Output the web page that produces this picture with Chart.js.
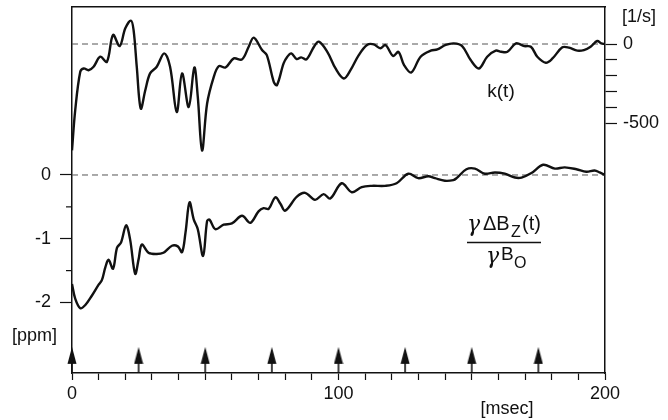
<!DOCTYPE html>
<html><head><meta charset="utf-8">
<script src="https://cdn.jsdelivr.net/npm/chart.js@4/dist/chart.umd.min.js"></script>
<style>html,body{margin:0;padding:0;background:#fff;overflow:hidden}canvas{display:block}</style>
</head><body>
<canvas id="c" width="668" height="420"></canvas>
<script>
// ---- data ----
const kTimes  = [0,1.2,3.1,4.4,6.2,8.1,10.6,13.1,15.4,17.9,20.0,22.1,23.1,24.3,25.8,27.5,29.3,31.8,34.6,36.8,39.3,41.3,43.8,45.9,47.2,48.8,50.7,53.2,55.1,57.6,60.7,63.8,66.3,68.2,71.3,73.1,75.7,76.9,79.4,80.8,82.3,84.3,86.0,88.0,90.8,92.6,95.8,98.9,102.0,104.5,107.6,110.7,113.2,115.7,117.6,120.5,122.5,124.6,127.3,130.8,134.6,137.1,140.2,143.3,146.4,149.6,152.7,155.8,159.0,161.0,163.4,166.6,169.7,172.2,174.6,177.8,180.3,184.0,186.5,189.6,192.1,194.6,197.1,198.6,200];
const kValues = [-670,-418,-175,-154,-165,-143,-80,-112,57,-13,99,147,89,-143,-407,-291,-185,-143,-59,-143,-428,-185,-397,-148,-333,-671,-375,-207,-139,-148,-91,-97,-17,40,-38,-70,-238,-259,-122,-80,-59,-95,-84,-97,-17,15,-49,-154,-217,-165,-70,-6,-2,-27,-6,-75,-50,-133,-179,-80,-42,-34,-6,4,-13,-101,-154,-80,-42,-49,-49,4,-13,-17,-80,-118,-91,-21,-23,-42,-38,-17,19,4,0];

const bTimes  = [0,1.2,3.1,5.0,7.5,10.0,11.2,12.5,13.7,15.4,16.9,18.4,20.3,21.8,23.7,25.0,26.2,28.7,31.8,34.3,37.5,39.7,41.3,42.6,44.1,45.7,47.2,49.2,50.7,51.6,53.8,56.9,60.0,63.8,66.9,70.0,71.9,73.8,76.3,78.2,80.0,84.4,87.5,91.2,94.4,96.9,101.2,105.0,108.7,112.5,117.5,121.8,126.2,129.9,133.7,136.2,139.9,143.1,144.3,148.0,151.2,154.9,158.7,162.4,166.2,168.7,172.4,176.8,181.2,184.9,189.3,193.0,196.1,198.0,200];
const bValues = [-1.71,-1.94,-2.09,-2.04,-1.89,-1.72,-1.65,-1.45,-1.33,-1.47,-1.14,-1.06,-0.79,-1.01,-1.55,-1.32,-1.09,-1.22,-1.24,-1.22,-1.11,-1.12,-1.21,-0.90,-0.43,-0.70,-0.85,-1.27,-0.72,-0.70,-0.85,-0.78,-0.76,-0.64,-0.75,-0.57,-0.52,-0.53,-0.35,-0.45,-0.56,-0.34,-0.28,-0.39,-0.30,-0.37,-0.13,-0.27,-0.19,-0.17,-0.17,-0.13,0.02,-0.05,-0.02,-0.05,-0.09,-0.08,-0.05,0.09,0.10,0.02,0.04,0.02,-0.04,-0.04,0.03,0.16,0.10,0.12,0.09,0.05,0.07,0.04,0];

const arrowTimes = [0,25,50,75,100,125,150,175];

const xTickValues   = [0,10,20,30,40,50,60,70,80,90,100,110,120,130,140,150,160,170,180,190,200];
const xLabelValues  = [0,100,200];
const xTickLabels   = ['0','100','200'];
const ppmTickValues = [-2,-1.5,-1,-0.5,0];
const ppmTickLabels = ['-2','','-1','','0'];
const rateTickValues = [-500,-400,-300,-200,-100,0];
const rateTickLabels = ['-500','','','','','0'];

// ---- styles / layout ----
const INK = '#111';
const FONT = '"Liberation Sans", Arial, Helvetica, sans-serif';
const GAMMA_FONT = 'italic 22px "DejaVu Serif", "Liberation Serif", serif';
const ARROW_LEVEL = -2.9; // vertical position of the event arrows on the ppm scale

const arrowImg = document.createElement('canvas');
arrowImg.width = 10; arrowImg.height = 26;
(function(){
  const g = arrowImg.getContext('2d');
  g.fillStyle = INK;
  g.beginPath(); g.moveTo(5,0); g.lineTo(0.5,17); g.lineTo(9.5,17); g.closePath(); g.fill();
  g.strokeStyle = INK; g.lineWidth = 1.6;
  g.beginPath(); g.moveTo(5,16); g.lineTo(5,26); g.stroke();
})();

const pairs = (ts, vs) => ts.map((t,i) => ({x:t, y:vs[i]}));

const annot = {
  id: 'annot',
  afterDraw(chart){
    const ctx = chart.ctx;
    ctx.save();
    ctx.fillStyle = INK; ctx.strokeStyle = INK;
    // minor ppm ticks (shorter)
    const yB = chart.scales.yB;
    ctx.lineWidth = 1.2;
    ppmTickValues.forEach((v,i) => {
      if (ppmTickLabels[i] === '') {
        const p = yB.getPixelForValue(v);
        ctx.beginPath(); ctx.moveTo(yB.right - 6, p); ctx.lineTo(yB.right, p); ctx.stroke();
      }
    });
    ctx.textBaseline = 'middle';
    ctx.font = '18px ' + FONT;
    ctx.textAlign = 'left';
    ctx.fillText('[1/s]', 622, 17);
    ctx.fillText('[ppm]', 12, 336);
    ctx.textAlign = 'center';
    ctx.fillText('[msec]', 507, 409);
    ctx.font = '19px ' + FONT;
    ctx.fillText('k(t)', 501, 92);
    // fraction  γΔB_Z(t) / γB_o
    ctx.textAlign = 'left'; ctx.textBaseline = 'alphabetic';
    ctx.font = GAMMA_FONT;
    ctx.fillText('γ', 467, 231);
    ctx.font = '20px ' + FONT;
    ctx.fillText('ΔB', 483, 230);
    ctx.font = '16px ' + FONT;
    ctx.fillText('Z', 511, 237);
    ctx.font = '20px ' + FONT;
    ctx.fillText('(t)', 522, 230);
    ctx.lineWidth = 1.6;
    ctx.beginPath(); ctx.moveTo(467, 242.5); ctx.lineTo(541, 242.5); ctx.stroke();
    ctx.font = GAMMA_FONT;
    ctx.fillText('γ', 486, 263);
    ctx.font = '19px ' + FONT;
    ctx.fillText('B', 501, 260);
    ctx.font = '16px ' + FONT;
    ctx.fillText('O', 514, 268);
    ctx.restore();
  }
};

const tickFont = {family: FONT, size: 18};
const noVPad = s => { s.paddingTop = 0; s.paddingBottom = 0; };
const noHPad = s => { s.paddingLeft = 0; s.paddingRight = 0; };

new Chart(document.getElementById('c'), {
  type: 'line',
  data: {
    datasets: [
      {label:'k(t)', data: pairs(kTimes, kValues), yAxisID:'yK', borderColor:INK, borderWidth:2.4, pointRadius:0, tension:0.35, fill:false, order:1},
      {label:'dBz', data: pairs(bTimes, bValues), yAxisID:'yB', borderColor:INK, borderWidth:2.4, pointRadius:0, tension:0.35, fill:false, order:1},
      {label:'k zero', data: [{x:0,y:0},{x:200,y:0}], yAxisID:'yK', borderColor:'#555', borderWidth:1, borderDash:[6,4], pointRadius:0, order:2},
      {label:'b zero', data: [{x:0,y:0},{x:200,y:0}], yAxisID:'yB', borderColor:'#555', borderWidth:1, borderDash:[6,4], pointRadius:0, order:2},
      {label:'events', type:'scatter', data: arrowTimes.map(t => ({x:t, y:ARROW_LEVEL})), yAxisID:'yB', pointStyle: arrowImg, pointRadius:5, showLine:false, clip:false, order:0}
    ]
  },
  options: {
    responsive: false, animation: false, devicePixelRatio: 1,
    layout: {padding: 0, autoPadding: false},
    plugins: {legend: {display:false}, tooltip: {enabled:false}},
    scales: {
      x: {
        type:'linear', position:'bottom', min:0, max:200,
        afterBuildTicks: s => { s.ticks = xTickValues.map(v => ({value:v})); },
        afterFit: s => { s.height = 47; noHPad(s); },
        ticks: {autoSkip:false, maxRotation:0, padding:3, color:INK, font:tickFont,
          callback: v => { const i = xLabelValues.indexOf(v); return i >= 0 ? xTickLabels[i] : ''; }},
        grid: {drawOnChartArea:false, drawTicks:true, tickLength:7, tickColor:INK, tickWidth:1.2},
        border: {display:true, color:INK, width:1.5}
      },
      xTop: {
        type:'linear', position:'top', min:0, max:200,
        afterFit: s => { s.height = 7; noHPad(s); },
        ticks: {display:false},
        grid: {display:false, drawTicks:false},
        border: {display:true, color:INK, width:1.5}
      },
      yB: {
        type:'linear', position:'left', min:-3.106, max:2.635,
        afterBuildTicks: s => { s.ticks = ppmTickValues.map(v => ({value:v})); },
        afterFit: s => { s.width = 72; noVPad(s); },
        ticks: {padding:9, color:INK, font:tickFont,
          callback: v => { const i = ppmTickValues.indexOf(v); return i >= 0 ? ppmTickLabels[i] : ''; }},
        grid: {drawOnChartArea:false, drawTicks:true, tickLength:12, tickWidth:1.2,
          tickColor: c => (c.tick && ppmTickLabels[ppmTickValues.indexOf(c.tick.value)] !== '') ? INK : 'rgba(0,0,0,0)'},
        border: {display:true, color:INK, width:1.5}
      },
      yK: {
        type:'linear', position:'right', min:-2073, max:233.2,
        afterBuildTicks: s => { s.ticks = rateTickValues.map(v => ({value:v})); },
        afterFit: s => { s.width = 63; noVPad(s); },
        ticks: {padding:6, color:INK, font:tickFont,
          callback: v => { const i = rateTickValues.indexOf(v); return i >= 0 ? rateTickLabels[i] : ''; }},
        grid: {drawOnChartArea:false, drawTicks:true, tickLength:12, tickColor:INK, tickWidth:1.2},
        border: {display:true, color:INK, width:1.5}
      }
    }
  },
  plugins: [annot]
});
</script>
</body></html>
